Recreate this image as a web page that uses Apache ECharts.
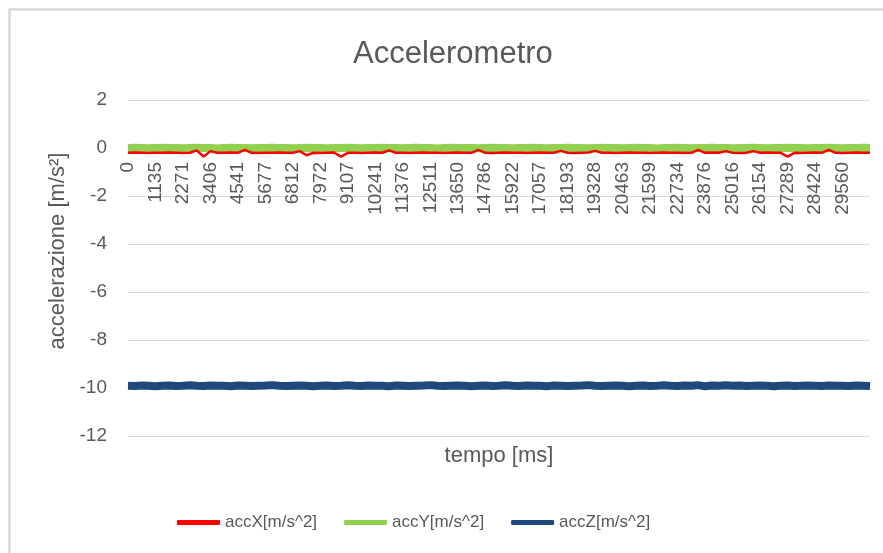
<!DOCTYPE html>
<html>
<head>
<meta charset="utf-8">
<script src="https://cdn.jsdelivr.net/npm/echarts@6/dist/echarts.min.js"></script>
<style>
html,body{margin:0;padding:0;background:#fff;}
#chart{width:883px;height:553px;}
</style>
</head>
<body>
<div id="chart"></div>
<script>
var titleText = 'Accelerometro';
var xName = 'tempo [ms]';
var yName = 'accelerazione [m/s²]';
var seriesNames = ['accX[m/s^2]', 'accY[m/s^2]', 'accZ[m/s^2]'];
var yTicks = { min: -12, max: 2, interval: 2 };

var times = [0,284,568,851,1135,1419,1703,1987,2271,2555,2838,3122,3406,3690,3974,4257,4541,4825,5109,5393,5677,5961,6245,6528,6812,7102,7392,7682,7972,8256,8540,8823,9107,9391,9674,9958,10241,10525,10809,11092,11376,11660,11944,12227,12511,12796,13080,13365,13650,13934,14218,14502,14786,15070,15354,15638,15922,16206,16490,16773,17057,17341,17625,17909,18193,18477,18761,19044,19328,19612,19896,20179,20463,20747,21031,21315,21599,21883,22167,22450,22734,23020,23305,23591,23876,24161,24446,24731,25016,25301,25585,25870,26154,26438,26722,27005,27289,27573,27857,28140,28424,28708,28992,29276,29560,29844,30128,30412,30696];

var accX = [-0.20,-0.19,-0.20,-0.21,-0.20,-0.20,-0.19,-0.20,-0.21,-0.20,
-0.10,-0.36,-0.13,-0.20,-0.20,-0.19,-0.20,-0.08,-0.20,-0.21,
-0.20,-0.20,-0.19,-0.20,-0.20,-0.13,-0.30,-0.20,-0.21,-0.20,
-0.19,-0.36,-0.20,-0.20,-0.21,-0.20,-0.19,-0.20,-0.10,-0.20,
-0.20,-0.21,-0.20,-0.19,-0.20,-0.20,-0.21,-0.20,-0.19,-0.20,
-0.20,-0.08,-0.20,-0.21,-0.20,-0.19,-0.20,-0.20,-0.21,-0.20,
-0.19,-0.20,-0.20,-0.12,-0.20,-0.21,-0.20,-0.19,-0.12,-0.20,
-0.20,-0.21,-0.20,-0.19,-0.20,-0.20,-0.21,-0.20,-0.19,-0.20,
-0.20,-0.21,-0.20,-0.08,-0.20,-0.19,-0.20,-0.13,-0.20,-0.21,
-0.20,-0.13,-0.20,-0.19,-0.20,-0.20,-0.36,-0.20,-0.21,-0.20,
-0.19,-0.20,-0.08,-0.20,-0.21,-0.20,-0.19,-0.20,-0.20];

var accY = [0.00,0.01,0.00,-0.01,0.00,0.01,0.00,0.00,-0.01,0.00,
0.01,0.00,0.00,-0.02,0.00,0.01,0.00,0.00,-0.01,0.00,
0.00,0.01,0.00,0.00,-0.01,0.00,0.01,0.00,0.00,-0.01,
0.00,0.00,0.01,0.00,-0.01,0.00,0.00,0.01,0.00,0.00,
-0.01,0.00,0.01,0.00,0.00,-0.02,0.00,0.01,0.00,0.00,
0.00,-0.01,0.00,0.01,0.00,0.00,-0.01,0.00,0.00,0.01,
0.00,-0.01,0.00,0.00,0.01,0.00,0.00,-0.01,0.00,0.01,
0.00,0.00,-0.01,0.00,0.01,0.00,0.00,-0.02,0.00,0.00,
0.01,0.00,-0.01,0.00,0.00,0.01,0.00,0.00,-0.01,0.00,
0.00,0.01,0.00,-0.01,0.00,0.00,0.01,0.00,0.00,-0.01,
0.00,0.00,0.01,0.00,-0.01,0.00,0.00,0.01,0.00];

var accZ = [-9.91,-9.92,-9.90,-9.91,-9.93,-9.91,-9.90,-9.92,-9.91,-9.89,
-9.91,-9.92,-9.90,-9.91,-9.91,-9.93,-9.90,-9.91,-9.92,-9.91,
-9.90,-9.88,-9.91,-9.92,-9.91,-9.90,-9.91,-9.93,-9.91,-9.90,
-9.92,-9.91,-9.89,-9.91,-9.92,-9.90,-9.91,-9.91,-9.93,-9.90,
-9.91,-9.92,-9.91,-9.90,-9.88,-9.91,-9.92,-9.91,-9.90,-9.91,
-9.93,-9.91,-9.90,-9.92,-9.91,-9.89,-9.91,-9.92,-9.90,-9.91,
-9.91,-9.93,-9.90,-9.91,-9.92,-9.91,-9.90,-9.88,-9.91,-9.92,
-9.91,-9.90,-9.91,-9.93,-9.91,-9.90,-9.92,-9.91,-9.89,-9.91,
-9.92,-9.90,-9.91,-9.88,-9.93,-9.90,-9.91,-9.89,-9.91,-9.90,
-9.92,-9.91,-9.90,-9.91,-9.93,-9.91,-9.90,-9.92,-9.91,-9.90,
-9.91,-9.92,-9.90,-9.91,-9.91,-9.92,-9.90,-9.91,-9.92];

var FONT = 'Liberation Sans';
var GREY = '#595959';

var chart = echarts.init(document.getElementById('chart'), null, {renderer: 'canvas'});
chart.setOption({
  backgroundColor: '#ffffff',
  animation: false,
  title: {
    text: titleText,
    left: 348,
    top: 34,
    textStyle: {fontFamily: FONT, fontSize: 31, fontWeight: 'normal', color: GREY}
  },
  graphic: [{
    type: 'rect',
    shape: {x: 9.5, y: 9.5, width: 900, height: 600},
    style: {fill: 'none', stroke: '#d9d9d9', lineWidth: 2.5},
    silent: true
  }],
  legend: {
    data: seriesNames,
    left: 172,
    top: 509,
    itemWidth: 43,
    itemHeight: 5,
    itemGap: 27,
    icon: 'roundRect',
    textStyle: {fontFamily: FONT, fontSize: 17, color: GREY}
  },
  grid: {left: 128, right: 13, top: 100, bottom: 117, containLabel: false, outerBoundsMode: 'none'},
  xAxis: {
    type: 'category',
    data: times,
    boundaryGap: false,
    offset: -288,
    name: xName,
    nameLocation: 'middle',
    nameGap: 297,
    nameTextStyle: {fontFamily: FONT, fontSize: 22, color: GREY},
    axisLine: {onZero: false, lineStyle: {color: '#d9d9d9', width: 1}},
    axisTick: {show: false},
    axisLabel: {
      interval: 3,
      rotate: 90,
      margin: 14,
      showMaxLabel: false,
      fontFamily: FONT,
      fontSize: 19,
      color: GREY
    },
    splitLine: {show: false}
  },
  yAxis: {
    type: 'value',
    min: yTicks.min,
    max: yTicks.max,
    interval: yTicks.interval,
    name: yName,
    nameLocation: 'middle',
    nameRotate: 90,
    nameGap: 59,
    nameTextStyle: {fontFamily: FONT, fontSize: 22, color: GREY, padding: [0, 0, 0, 34]},
    axisLine: {show: false},
    axisTick: {show: false},
    axisLabel: {margin: 21, fontFamily: FONT, fontSize: 19, color: GREY},
    splitLine: {lineStyle: {color: '#d9d9d9', width: 1}}
  },
  series: [
    {
      name: seriesNames[0], type: 'line', data: accX, showSymbol: false, z: 4,
      lineStyle: {color: '#ff0000', width: 2.5}, itemStyle: {color: '#ff0000'}
    },
    {
      name: seriesNames[1], type: 'line', data: accY, showSymbol: false, z: 3,
      lineStyle: {color: '#92d050', width: 8}, itemStyle: {color: '#92d050'}
    },
    {
      name: seriesNames[2], type: 'line', data: accZ, showSymbol: false, z: 3,
      lineStyle: {color: '#1f497d', width: 8}, itemStyle: {color: '#1f497d'}
    }
  ]
});
</script>
</body>
</html>
